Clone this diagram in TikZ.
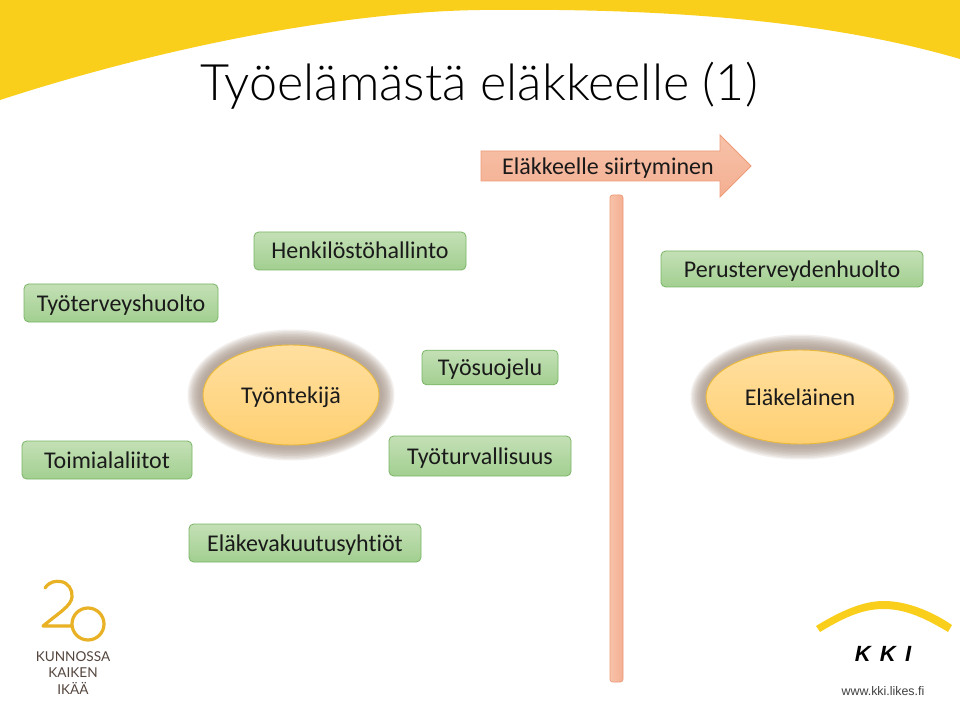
\documentclass[tikz,border=0pt]{standalone}
\usepackage{fontspec}
\setmainfont[Ligatures=NoCommon]{Carlito}
\newfontfamily\titlefont{Lato Light}
\newfontfamily\logofont{Lato}
\newfontfamily\webfont{Liberation Sans}
\usetikzlibrary{shapes.geometric,shapes.arrows}
\definecolor{gold}{HTML}{F9CF1C}
\definecolor{greenT}{HTML}{C4E0B6}
\definecolor{greenB}{HTML}{A2CF90}
\definecolor{greenL}{HTML}{78B565}
\definecolor{salT}{HTML}{F7C2A9}
\definecolor{salB}{HTML}{F4AF92}
\definecolor{salL}{HTML}{EE9B78}
\definecolor{orT}{HTML}{FFDFA0}
\definecolor{orB}{HTML}{FFD072}
\definecolor{orL}{HTML}{E9B93A}
\definecolor{glow}{HTML}{A39182}
\definecolor{txt}{HTML}{1A1A1A}
\definecolor{logoT}{HTML}{54453D}
\definecolor{logoG}{HTML}{E9B224}
\newcommand{\lbl}[1]{\raisebox{-6pt}[0pt][0pt]{#1}}
\tikzset{
 gbox/.style={draw=greenL,line width=0.6pt,rounded corners=3.5pt,top color=greenT,bottom color=greenB,inner sep=0pt,text=txt,font=\fontsize{18}{20}\selectfont},
 oval/.style={ellipse,draw=orL,line width=0.7pt,top color=orT,bottom color=orB,inner sep=0pt,text=txt,font=\fontsize{18}{20}\selectfont},
 logot/.style={text=logoT,inner sep=0pt,font=\logofont\fontsize{10.2}{12}\selectfont}
}
\newcommand{\glowoval}[4]{%
 \foreach \k in {15.5,14,...,3}{%
  \fill[glow,opacity=0.14] (#1,#2) ellipse ({#3+\k} and {#4+\k});
 }}
\begin{document}
\begin{tikzpicture}[x=0.75pt,y=-0.75pt]
\useasboundingbox (0,0) rectangle (960,720);
\fill[white] (0,0) rectangle (960,720);
% yellow band
\fill[gold] (0,0) -- (0,100) .. controls (160,48) and (340,12) .. (480,10) .. controls (650,8) and (820,18) .. (960,59) -- (960,0) -- cycle;
% title
\node[inner sep=0pt,text=black,font=\titlefont\fontsize{37.7}{44}\selectfont] (title) at (479,84) {\raisebox{-12.75pt}[0pt][0pt]{Työelämästä eläkkeelle (1)}};
% arrow
\draw[salL,line width=0.6pt,top color=salT,bottom color=salB] (481,151) -- (720,151) -- (720,135) -- (751,166) -- (720,197) -- (720,181) -- (481,181) -- cycle;
\node[inner sep=0pt,text=txt,font=\fontsize{18}{20}\selectfont] (arrowlabel) at (608,167) {\lbl{Eläkkeelle siirtyminen}};
% bar
\draw[salL,line width=0.5pt,rounded corners=2pt,left color=salT,right color=salB] (610,195) rectangle (623,682);
% green boxes
\node[gbox,minimum width=159pt,minimum height=28.5pt] (henk) at (360,251) {\lbl{Henkilöstöhallinto}};
\node[gbox,minimum width=145.5pt,minimum height=28.5pt] (tyot) at (121,303) {\lbl{Työterveyshuolto}};
\node[gbox,minimum width=196.5pt,minimum height=27pt] (peru) at (792,269) {\lbl{Perusterveydenhuolto}};
\node[gbox,minimum width=102pt,minimum height=26pt] (suoj) at (490,367.5) {\lbl{Työsuojelu}};
\node[gbox,minimum width=127.5pt,minimum height=28.5pt] (toim) at (107,460) {\lbl{Toimialaliitot}};
\node[gbox,minimum width=136.5pt,minimum height=30pt] (turv) at (480,456) {\lbl{Työturvallisuus}};
\node[gbox,minimum width=174pt,minimum height=28.5pt] (elva) at (305,543) {\lbl{Eläkevakuutusyhtiöt}};
% ovals
\glowoval{291}{395}{88}{50}
\node[oval,minimum width=132pt,minimum height=75pt] (tyontekija) at (291,395) {\lbl{Työntekijä}};
\glowoval{800}{397}{94}{47}
\node[oval,minimum width=141pt,minimum height=70.5pt] (elakelainen) at (800,397) {\lbl{Eläkeläinen}};
% 20 logo
\draw[logoG,line width=2.4pt,line cap=round,line join=round] (45,588) .. controls (50,581) and (56,581) .. (60,581.5) .. controls (68,582) and (73,590) .. (72,597) .. controls (71,606) and (60,612) .. (43,626) -- (72,626);
\draw[logoG,line width=2.4pt] (88,624) circle (16);
\node[logot] (kunnossa) at (73,657) {KUNNOSSA};
\node[logot] (kaiken) at (73,673) {KAIKEN};
\node[logot] (ikaa) at (73,688) {IKÄÄ};
% KKI logo
\fill[gold] (816,626) .. controls (850,605) and (870,601) .. (884,601) .. controls (905,601) and (930,610) .. (952,625) -- (948,632) .. controls (925,618) and (905,609) .. (884,609) .. controls (865,609) and (848,615) .. (820,632) -- cycle;
\node[inner sep=0pt,text=black,font=\webfont\bfseries\itshape\fontsize{16.5}{20}\selectfont] (kki) at (883,654) {K\hspace{0.42em}K\hspace{0.42em}I};
\node[inner sep=0pt,text=black!75,font=\webfont\fontsize{9.3}{12}\selectfont] (www) at (883,691.5) {www.kki.likes.fi};
\end{tikzpicture}
\end{document}
